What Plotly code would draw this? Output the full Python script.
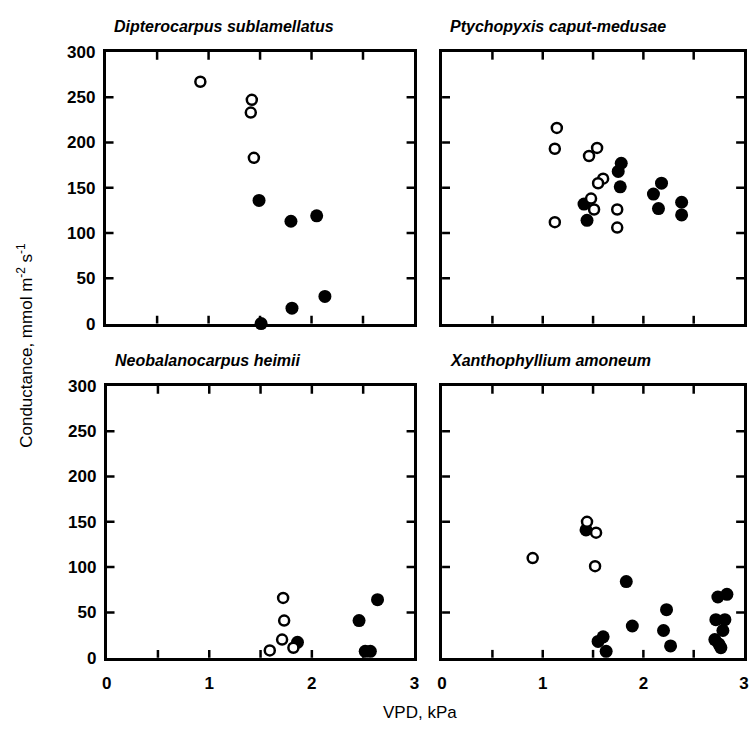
import plotly.graph_objects as go

titles = ["Dipterocarpus sublamellatus", "Ptychopyxis caput-medusae",
          "Neobalanocarpus heimii", "Xanthophyllium amoneum"]

# Panel 1: Dipterocarpus sublamellatus
p1_open_x = [0.92, 1.42, 1.41, 1.44]
p1_open_y = [267, 247, 233, 183]
p1_fill_x = [1.49, 1.80, 2.05, 2.13, 1.81, 1.51]
p1_fill_y = [136, 113, 119, 30, 17, 0]

# Panel 2: Ptychopyxis caput-medusae
p2_open_x = [1.14, 1.12, 1.54, 1.46, 1.60, 1.55, 1.48, 1.51, 1.74, 1.12, 1.74]
p2_open_y = [216, 193, 194, 185, 160, 155, 138, 126, 126, 112, 106]
p2_fill_x = [1.78, 1.75, 1.77, 2.18, 2.10, 2.15, 2.38, 2.38, 1.41, 1.44]
p2_fill_y = [177, 168, 151, 155, 143, 127, 134, 120, 132, 114]

# Panel 3: Neobalanocarpus heimii
p3_open_x = [1.72, 1.73, 1.71, 1.59, 1.82]
p3_open_y = [66, 41, 20, 8, 11]
p3_fill_x = [2.64, 2.46, 1.86, 2.52, 2.57]
p3_fill_y = [64, 41, 17, 7, 7]

# Panel 4: Xanthophyllium amoneum
p4_open_x = [1.44, 1.53, 0.90, 1.52]
p4_open_y = [150, 138, 110, 101]
p4_fill_x = [1.43, 1.83, 2.23, 1.89, 2.20, 2.27, 1.60, 1.55, 1.63,
             2.74, 2.83, 2.72, 2.81, 2.79, 2.71, 2.75, 2.77]
p4_fill_y = [141, 84, 53, 35, 30, 13, 23, 18, 7,
             67, 70, 42, 42, 30, 20, 15, 11]

# tick marks (interior) and labels
x_minor_ticks = [0.5, 1, 1.5, 2, 2.5]
y_minor_ticks = [50, 100, 150, 200, 250]

panels = [
    (p1_open_x, p1_open_y, p1_fill_x, p1_fill_y),
    (p2_open_x, p2_open_y, p2_fill_x, p2_fill_y),
    (p3_open_x, p3_open_y, p3_fill_x, p3_fill_y),
    (p4_open_x, p4_open_y, p4_fill_x, p4_fill_y),
]

W, H = 751, 731
# pixel boxes (left, right, top, bottom)
boxes = [(102, 415, 44, 323), (443, 749, 44, 323),
         (103, 415, 387, 666), (443, 749, 387, 666)]
TICKLEN = 8

FONT = "Liberation Sans, Arial"
fig = go.Figure()
layout = dict(width=W, height=H, margin=dict(l=0, r=0, t=0, b=0),
              paper_bgcolor="white", plot_bgcolor="white", showlegend=False,
              font=dict(family=FONT, color="black"))

annotations = []
shapes = []
for i, (box, data) in enumerate(zip(boxes, panels)):
    n = i + 1
    xa = "x" if n == 1 else f"x{n}"
    ya = "y" if n == 1 else f"y{n}"
    ox, oy, fx, fy = data
    fig.add_trace(go.Scatter(x=fx, y=fy, mode="markers", xaxis=xa, yaxis=ya,
                             cliponaxis=False,
                             marker=dict(symbol="circle", size=13, color="black",
                                         line=dict(color="black", width=0))))
    fig.add_trace(go.Scatter(x=ox, y=oy, mode="markers", xaxis=xa, yaxis=ya,
                             cliponaxis=False,
                             marker=dict(symbol="circle", size=10, color="white",
                                         line=dict(color="black", width=2.5))))
    l, r, t, b = box
    xdom = [l / W, r / W]
    ydom = [1 - b / H, 1 - t / H]
    fy_len = TICKLEN / (b - t)
    fx_len = TICKLEN / (r - l)
    # inward tick marks on all four sides
    for v in x_minor_ticks:
        for y0, y1 in ((0, fy_len), (1 - fy_len, 1)):
            shapes.append(dict(type="line", xref=xa, yref=f"{ya} domain",
                               x0=v, x1=v, y0=y0, y1=y1,
                               line=dict(color="black", width=2.5)))
    for v in y_minor_ticks:
        for x0, x1 in ((0, fx_len), (1 - fx_len, 1)):
            shapes.append(dict(type="line", xref=f"{xa} domain", yref=ya,
                               x0=x0, x1=x1, y0=v, y1=v,
                               line=dict(color="black", width=2.5)))
    bottom_row = n in (3, 4)
    left_col = n in (1, 3)
    layout["xaxis" if n == 1 else f"xaxis{n}"] = dict(
        domain=xdom, range=[0, 3], anchor=ya, showgrid=False, zeroline=False,
        showline=True, linecolor="black", linewidth=2.5, mirror=True,
        ticks="", tickmode="linear", tick0=0, dtick=1, tickformat="d",
        showticklabels=bottom_row,
        tickfont=dict(size=17, family=FONT, color="black", weight="bold"),
        ticklabelstandoff=8,
        fixedrange=True)
    layout["yaxis" if n == 1 else f"yaxis{n}"] = dict(
        domain=ydom, range=[0, 300], anchor=xa, showgrid=False, zeroline=False,
        showline=True, linecolor="black", linewidth=2.5, mirror=True,
        ticks="", tickmode="linear", tick0=0, dtick=50, showticklabels=left_col,
        tickfont=dict(size=17, family=FONT, color="black", weight="bold"),
        ticklabelstandoff=4,
        fixedrange=True)
    annotations.append(dict(
        text=f"<b><i>{titles[i]}</i></b>", x=(l + 6) / W, y=1 - (t - 15) / H,
        xref="paper", yref="paper", xanchor="left", yanchor="bottom",
        showarrow=False,
        font=dict(size=16, family=FONT, color="black")))

annotations.append(dict(text="Conductance, mmol m<sup>-2</sup> s<sup>-1</sup>",
                        x=20 / W, y=1 - 345 / H, xref="paper", yref="paper",
                        xanchor="center", yanchor="middle",
                        textangle=-90, showarrow=False,
                        font=dict(size=17, family=FONT, color="black")))
annotations.append(dict(text="VPD, kPa", x=421 / W, y=1 - 722 / H,
                        xref="paper", yref="paper", xanchor="center", yanchor="middle",
                        showarrow=False,
                        font=dict(size=17, family=FONT, color="black")))
layout["annotations"] = annotations
layout["shapes"] = shapes
fig.update_layout(**layout)
fig.write_html("out.html")
